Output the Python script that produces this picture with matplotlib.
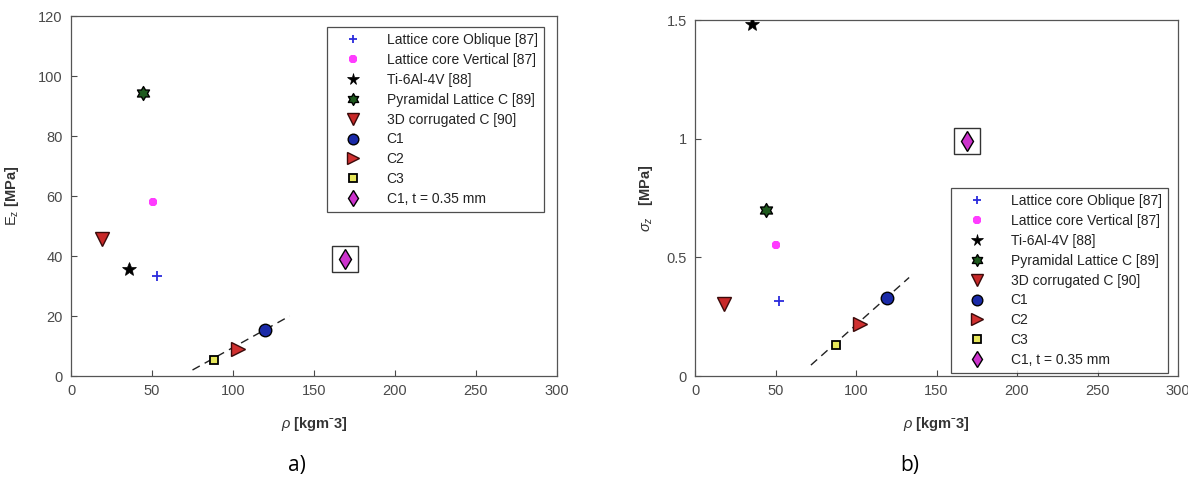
import numpy as np
import matplotlib.pyplot as plt
from matplotlib.path import Path

plt.rcParams['font.family'] = ['Liberation Sans', 'DejaVu Sans']
plt.rcParams['mathtext.fontset'] = 'custom'
plt.rcParams['mathtext.rm'] = 'Liberation Sans'
plt.rcParams['mathtext.it'] = 'Liberation Sans:italic'
plt.rcParams['mathtext.bf'] = 'Liberation Sans:bold'

# Data

labels = ['Lattice core Oblique [87]', 'Lattice core Vertical [87]', 'Ti-6Al-4V [88]',
          'Pyramidal Lattice C [89]', '3D corrugated C [90]', 'C1', 'C2', 'C3',
          'C1, t = 0.35 mm']
density_a = [52.8, 50.4, 35.7, 44.5, 19.1, 120.0, 102.9, 88.1, 169.1]
modulus_a = [33.3, 58.1, 35.6, 94.4, 45.6, 15.3, 8.9, 5.3, 39.1]
density_b = [52.1, 50.0, 35.1, 44.0, 18.2, 119.5, 102.7, 87.6, 168.9]
strength_b = [0.317, 0.551, 1.483, 0.699, 0.302, 0.330, 0.219, 0.129, 0.991]

# dashed trend lines (end points)
trend_a_x = [75, 135]
trend_a_y = [2.0, 20.0]
trend_b_x = [72, 133]
trend_b_y = [0.046, 0.415]

# hexagram marker (MATLAB 'h')
ang_out = np.deg2rad(90 + 60 * np.arange(6))
ang_in = np.deg2rad(120 + 60 * np.arange(6))
pts = []
for k in range(6):
    pts.append((np.cos(ang_out[k]), np.sin(ang_out[k])))
    pts.append((np.cos(ang_in[k]) / np.sqrt(3), np.sin(ang_in[k]) / np.sqrt(3)))
pts.append(pts[0])
hexagram = Path(pts, [Path.MOVETO] + [Path.LINETO] * 11 + [Path.CLOSEPOLY])

styles = [
    dict(marker='+', color='#2b2bdc', ms=7, mew=1.3, mec='#2b2bdc'),
    dict(marker='8', color='#ff3cff', ms=7, mew=0, mec='#ff3cff'),
    dict(marker='*', color='black', ms=10, mew=0.5, mec='black'),
    dict(marker=hexagram, color='#1e5a1e', ms=10, mew=1.0, mec='black'),
    dict(marker='v', color='#c82828', ms=10, mew=1.0, mec='#3a0a0a'),
    dict(marker='o', color='#1a2aa8', ms=9, mew=1.0, mec='black'),
    dict(marker='>', color='#d03030', ms=10, mew=1.0, mec='#3a0a0a'),
    dict(marker='s', color='#e6e65a', ms=6, mew=1.3, mec='black'),
    dict(marker='d', color='#cc33cc', ms=10, mew=1.0, mec='black'),
]

grey = '#4a4a4a'

fig = plt.figure(figsize=(11.88, 4.8), dpi=100)
ax1 = fig.add_axes([71 / 1188, 1 - 376 / 480, 486 / 1188, 360 / 480])
ax2 = fig.add_axes([695 / 1188, 1 - 376 / 480, 483 / 1188, 356 / 480])


def draw(ax, xs, ys, tx, ty, legend_loc):
    ax.plot(tx, ty, ls=(0, (6, 4)), color='#222222', lw=1.0, zorder=1)
    # highlight box round the last point
    ax.plot(xs[-1], ys[-1], marker='s', ms=19, mfc='none', mec='#333333',
            mew=1.0, ls='none', zorder=2)
    for x, y, lab, st in zip(xs, ys, labels, styles):
        ax.plot(x, y, ls='none', marker=st['marker'], ms=st['ms'], mfc=st['color'],
                mec=st['mec'], mew=st['mew'], label=lab, zorder=3)
    leg = ax.legend(loc='upper left', bbox_to_anchor=legend_loc, fontsize=10,
                    frameon=True, fancybox=False, edgecolor='#222222',
                    markerscale=0.85, handlelength=2.9, handletextpad=0.95,
                    labelspacing=0.42, borderpad=0.45, borderaxespad=0)
    leg.get_frame().set_linewidth(0.9)
    for t in leg.get_texts():
        t.set_color('#222222')
    ax.set_xlim(0, 300)
    ax.tick_params(direction='in', length=4, labelsize=10.5, colors=grey, pad=6)
    for s in ax.spines.values():
        s.set_color('#555555')
        s.set_linewidth(0.9)


xlabel = r'$\rho$ $\mathbf{[kgm}$ˉ$\mathbf{3]}$'

draw(ax1, density_a, modulus_a, trend_a_x, trend_a_y,
     ((327 - 71) / 486, (376 - 27) / 360))
ax1.set_ylim(0, 120)
ax1.set_yticks([0, 20, 40, 60, 80, 100, 120])
ax1.set_xlabel(xlabel, fontsize=10.5, color='#333333', labelpad=12)
ax1.set_ylabel(r'E$_{\rm z}$ $\mathbf{[MPa]}$', fontsize=10.5, color='#333333', labelpad=12)

draw(ax2, density_b, strength_b, trend_b_x, trend_b_y,
     ((951 - 695) / 483, (376 - 188) / 356))
ax2.set_ylim(0, 1.5)
ax2.set_yticks([0, 0.5, 1, 1.5])
ax2.set_yticklabels(['0', '0.5', '1', '1.5'])
ax2.set_xlabel(xlabel, fontsize=10.5, color='#333333', labelpad=12)
ax2.set_ylabel(r'$\sigma_z$   $\mathbf{[MPa]}$', fontsize=10.5, color='#333333', labelpad=8)

fig.text(297 / 1188, 1 - 466 / 480, 'a)', fontsize=15, family='Open Sans',
         ha='center', va='center')
fig.text(910 / 1188, 1 - 466 / 480, 'b)', fontsize=15, family='Open Sans',
         ha='center', va='center')

fig.savefig('out.png', dpi=100)
